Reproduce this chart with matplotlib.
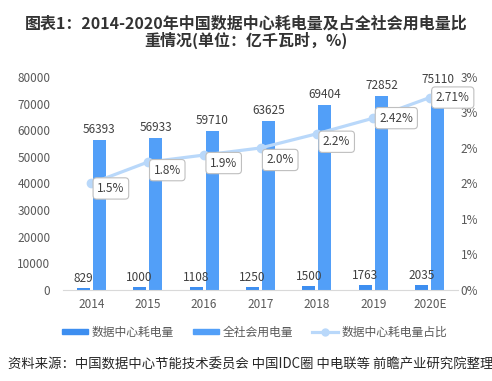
import matplotlib
matplotlib.use("Agg")
import matplotlib.pyplot as plt
from matplotlib.patches import Patch
from matplotlib.lines import Line2D
import numpy as np

plt.rcParams['font.family'] = ['Noto Sans CJK SC', 'DejaVu Sans']

years = ["2014", "2015", "2016", "2017", "2018", "2019", "2020E"]
dc_power = [829, 1000, 1108, 1250, 1500, 1763, 2035]
total_power = [56393, 56933, 59710, 63625, 69404, 72852, 75110]
share = [1.5, 1.8, 1.9, 2.0, 2.2, 2.42, 2.71]
share_labels = ["1.5%", "1.8%", "1.9%", "2.0%", "2.2%", "2.42%", "2.71%"]
left_ticks = [0, 10000, 20000, 30000, 40000, 50000, 60000, 70000, 80000]
right_ticks = [0, 0.5, 1.0, 1.5, 2.0, 2.5, 3.0]
right_tick_labels = ["0%", "1%", "1%", "2%", "2%", "3%", "3%"]

c_dc = "#3d8ef0"
c_tot = "#529ff8"
c_line = "#b9d8fa"
c_text = "#595959"

fig = plt.figure(figsize=(4.92, 3.81), dpi=100)
ax = fig.add_axes([0.128, 0.239, 0.803, 0.559])
x = np.arange(len(years))
w = 0.23
off = 0.142
b1 = ax.bar(x - off, dc_power, w, color=c_dc, zorder=2)
b2 = ax.bar(x + off, total_power, w, color=c_tot, zorder=2)
ax.set_xlim(-0.5, len(years) - 0.5)
ax.set_ylim(0, 80000)
ax.set_yticks(left_ticks)
ax.set_yticklabels([str(t) for t in left_ticks])
ax.set_xticks(x)
ax.set_xticklabels(years)
for s in ["top", "left", "right"]:
    ax.spines[s].set_visible(False)
ax.spines["bottom"].set_color("#d9d9d9")
ax.tick_params(axis="both", length=0, labelsize=8.5, colors=c_text)
ax.tick_params(axis="y", pad=9)
ax.tick_params(axis="x", pad=6)

for rect, v in zip(b1, dc_power):
    ax.annotate(str(v), (rect.get_x() + rect.get_width() / 2, v), xytext=(0, 3),
                textcoords="offset pixels", ha="center", va="bottom", fontsize=8.5, color="#404040")
for rect, v in zip(b2, total_power):
    ax.annotate(str(v), (rect.get_x() + rect.get_width() / 2, v), xytext=(0, 4),
                textcoords="offset pixels", ha="center", va="bottom", fontsize=8.5, color="#404040")

ax2 = ax.twinx()
ax2.set_ylim(0, 3.0)
ax2.set_yticks(right_ticks)
ax2.set_yticklabels(right_tick_labels)
for s in ["top", "left", "right", "bottom"]:
    ax2.spines[s].set_visible(False)
ax2.tick_params(axis="y", length=0, labelsize=8.5, colors=c_text, pad=2)
ax2.plot(x, share, color=c_line, lw=2.3, marker="o", ms=6, zorder=3)

label_offsets = [(6, -5), (6, -8), (6, -8), (6, -12), (6, -8), (6, 0), (6, 0)]
for xi, v, lab, o in zip(x, share, share_labels, label_offsets):
    ax2.annotate(lab, (xi, v), xytext=o, textcoords="offset pixels", ha="left", va="center",
                 fontsize=8.5, color="#404040",
                 bbox=dict(boxstyle="round,pad=0.35,rounding_size=0.3", fc="white", ec="#bfbfbf", lw=0.8))

fig.text(0.5, 0.96, "图表1：2014-2020年中国数据中心耗电量及占全社会用电量比\n重情况(单位：亿千瓦时，%)",
         ha="center", va="top", fontsize=11.5, fontweight="bold", color="#333333", linespacing=1.05)

handles = [Patch(color=c_dc), Patch(color=c_tot),
           Line2D([0], [0], color=c_line, lw=2.3, marker="o", ms=5)]
labels = ["数据中心耗电量", "全社会用电量", "数据中心耗电量占比"]
leg = fig.legend(handles, labels, loc="center", bbox_to_anchor=(0.518, 0.128), ncol=3, frameon=False,
                 fontsize=8.5, handlelength=2.2, handleheight=0.35, columnspacing=1.6, handletextpad=0.3)
for t in leg.get_texts():
    t.set_color(c_text)

fig.text(0.016, 0.042, "资料来源：中国数据中心节能技术委员会 中国IDC圈 中电联等 前瞻产业研究院整理",
         ha="left", va="center", fontsize=9.6, color="#262626")

fig.savefig("out.png", dpi=100)
